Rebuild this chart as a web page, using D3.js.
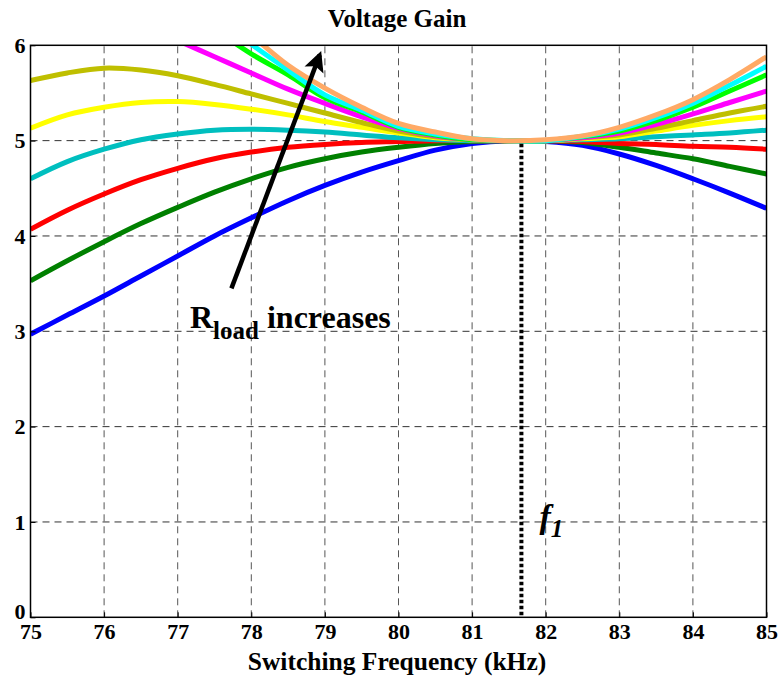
<!DOCTYPE html>
<html>
<head>
<meta charset="utf-8">
<script src="https://cdn.jsdelivr.net/npm/d3@7"></script>
<style>
  body { margin: 0; background: #fff; }
  svg text { font-family: "Liberation Serif", "Times New Roman", serif; font-weight: bold; }
</style>
</head>
<body>
<div id="chart"></div>
<script>
// switching frequency samples (kHz)
const freq = [75, 75.5, 76, 76.5, 77, 77.5, 78, 78.5, 79, 79.5, 80, 80.5, 81, 81.5, 82, 82.5, 83, 83.5, 84, 84.5, 85];

// voltage gain per load (null = off the top of the plot)
const gainBlue    = [2.97, 3.17, 3.37, 3.58, 3.79, 4.00, 4.19, 4.37, 4.53, 4.67, 4.79, 4.90, 4.97, 5.00, 4.99, 4.95, 4.86, 4.74, 4.60, 4.45, 4.29];
const gainGreen   = [3.53, 3.74, 3.94, 4.13, 4.30, 4.46, 4.60, 4.72, 4.81, 4.88, 4.93, 4.97, 4.99, 5.00, 5.00, 4.98, 4.93, 4.87, 4.81, 4.73, 4.65];
const gainRed     = [4.07, 4.27, 4.44, 4.59, 4.71, 4.81, 4.88, 4.93, 4.96, 4.98, 4.99, 5.00, 5.00, 5.00, 5.00, 4.99, 4.97, 4.96, 4.94, 4.93, 4.91];
const gainTeal    = [4.60, 4.78, 4.91, 5.01, 5.07, 5.11, 5.12, 5.11, 5.09, 5.06, 5.03, 5.01, 5.00, 5.00, 5.00, 5.01, 5.02, 5.04, 5.06, 5.08, 5.11];
const gainYellow  = [5.13, 5.27, 5.35, 5.40, 5.41, 5.38, 5.33, 5.27, 5.20, 5.14, 5.08, 5.03, 5.01, 5.00, 5.00, 5.02, 5.04, 5.10, 5.16, 5.21, 5.25];
const gainOlive   = [5.63, 5.71, 5.76, 5.74, 5.68, 5.59, 5.49, 5.39, 5.29, 5.19, 5.10, 5.04, 5.01, 5.00, 5.00, 5.03, 5.06, 5.13, 5.21, 5.29, 5.36];
const gainMagenta = [null, null, null, null, 6.05, 5.88, 5.71, 5.54, 5.39, 5.25, 5.13, 5.05, 5.01, 5.00, 5.00, 5.03, 5.08, 5.17, 5.28, 5.40, 5.52];
const gainLime    = [null, null, null, null, null, 6.17, 5.91, 5.69, 5.45, 5.30, 5.14, 5.06, 5.01, 5.00, 5.00, 5.04, 5.10, 5.21, 5.35, 5.52, 5.69];
const gainCyan    = [null, null, null, null, null, 6.30, 6.01, 5.74, 5.48, 5.32, 5.15, 5.07, 5.02, 5.00, 5.00, 5.045, 5.12, 5.24, 5.39, 5.58, 5.78];
const gainOrange  = [null, null, null, null, null, 6.45, 6.11, 5.79, 5.55, 5.35, 5.18, 5.09, 5.02, 5.00, 5.01, 5.05, 5.14, 5.27, 5.43, 5.64, 5.88];

const series = [gainBlue, gainGreen, gainRed, gainTeal, gainYellow, gainOlive, gainMagenta, gainLime, gainCyan, gainOrange];
const colors = ["#0000ff", "#008000", "#ff0000", "#00bfbf", "#ffff00", "#bfbf00", "#ff00ff", "#00ff00", "#00ffff", "#ffaa66"];

const xTicks = [75, 76, 77, 78, 79, 80, 81, 82, 83, 84, 85];
const yTicks = [0, 1, 2, 3, 4, 5, 6];
const f1 = 81.67;      // resonant frequency marker
const f1Gain = 5;

const width = 781, height = 681;
const margin = { top: 45.3, right: 14.5, bottom: 63.7, left: 30.5 };

const svg = d3.select("#chart").append("svg")
    .attr("width", width)
    .attr("height", height);

const x = d3.scaleLinear().domain([75, 85]).range([margin.left, width - margin.right]);
const y = d3.scaleLinear().domain([0, 6]).range([height - margin.bottom, margin.top]);

const defs = svg.append("defs");
defs.append("clipPath")
    .attr("id", "plot-clip")
    .append("rect")
    .attr("x", margin.left)
    .attr("y", margin.top)
    .attr("width", x(85) - x(75))
    .attr("height", y(0) - y(6));

// grid
const grid = svg.append("g").attr("class", "grid")
    .attr("stroke-width", 1)
    .attr("stroke-dasharray", "7,5");

grid.selectAll("line.v")
    .data(xTicks.slice(1, -1))
    .join("line")
    .attr("class", "v")
    .attr("stroke", "#555")
    .attr("x1", d => x(d)).attr("x2", d => x(d))
    .attr("y1", y(0)).attr("y2", y(6));

grid.selectAll("line.h")
    .data(yTicks.slice(1, -1))
    .join("line")
    .attr("class", "h")
    .attr("stroke", "#333")
    .attr("x1", x(75)).attr("x2", x(85))
    .attr("y1", d => y(d)).attr("y2", d => y(d));

// curves
const line = d3.line()
    .defined(d => d[1] != null)
    .x(d => x(d[0]))
    .y(d => y(d[1]))
    .curve(d3.curveCatmullRom.alpha(0.5));

svg.append("g")
    .attr("clip-path", "url(#plot-clip)")
    .selectAll("path")
    .data(series)
    .join("path")
    .attr("fill", "none")
    .attr("stroke", (d, i) => colors[i])
    .attr("stroke-width", 5)
    .attr("stroke-linejoin", "round")
    .attr("d", d => line(d.map((v, i) => [freq[i], v])));

// f1 marker
svg.append("line")
    .attr("x1", x(f1)).attr("x2", x(f1))
    .attr("y1", y(f1Gain) + 3).attr("y2", y(0))
    .attr("stroke", "#000")
    .attr("stroke-width", 4)
    .attr("stroke-dasharray", "3.5,2.5");

const f1Label = svg.append("text")
    .attr("x", x(f1) + 18)
    .attr("y", y(1) + 6)
    .attr("font-size", 34)
    .attr("font-style", "italic");
f1Label.append("tspan").text("f");
f1Label.append("tspan").attr("dy", 9).attr("font-size", 25).text("1");

// axes box
svg.append("rect")
    .attr("x", x(75)).attr("y", y(6))
    .attr("width", x(85) - x(75))
    .attr("height", y(0) - y(6))
    .attr("fill", "none")
    .attr("stroke", "#000")
    .attr("stroke-width", 1.5);

// axes
const xAxis = svg.append("g")
    .attr("transform", `translate(0,${y(0)})`)
    .call(d3.axisBottom(x).tickValues(xTicks).tickSize(-5).tickPadding(9).tickFormat(d3.format("d")));
const yAxis = svg.append("g")
    .attr("transform", `translate(${x(75)},0)`)
    .call(d3.axisLeft(y).tickValues(yTicks).tickSize(-5).tickPadding(5).tickFormat(d3.format("d")));

[xAxis, yAxis].forEach(a => {
    a.select(".domain").remove();
    a.selectAll("text").attr("font-size", 22).attr("fill", "#000");
    a.selectAll(".tick line").attr("stroke", "#000");
});
xAxis.selectAll("text").attr("dy", "0.6em");
// the reference squeezes "0" into the corner above "75"
yAxis.selectAll(".tick").filter(d => d === 0).select("text").attr("dy", "0.05em");

// arrow: R_load increases
defs.append("marker")
    .attr("id", "arrowhead")
    .attr("viewBox", "0 0 10 10")
    .attr("refX", 8).attr("refY", 5)
    .attr("markerWidth", 5.5).attr("markerHeight", 4.5)
    .attr("markerUnits", "strokeWidth")
    .attr("orient", "auto")
    .append("path")
    .attr("d", "M0,0 L10,5 L0,10 L2,5 Z")
    .attr("fill", "#000");

svg.append("line")
    .attr("x1", x(77.73)).attr("y1", y(3.45))
    .attr("x2", x(78.93)).attr("y2", y(5.9))
    .attr("stroke", "#000")
    .attr("stroke-width", 4.5)
    .attr("marker-end", "url(#arrowhead)");

const rLabel = svg.append("text")
    .attr("x", 190)
    .attr("y", 328)
    .attr("font-size", 32);
rLabel.append("tspan").text("R");
rLabel.append("tspan").attr("dy", 11).attr("font-size", 25).text("load");
rLabel.append("tspan").attr("dy", -11).attr("dx", 8).text("increases");

// titles
svg.append("text")
    .attr("x", 397)
    .attr("y", 27)
    .attr("text-anchor", "middle")
    .attr("font-size", 25)
    .text("Voltage Gain");

svg.append("text")
    .attr("x", 397)
    .attr("y", 670)
    .attr("text-anchor", "middle")
    .attr("font-size", 25.5)
    .text("Switching Frequency (kHz)");
</script>
</body>
</html>
